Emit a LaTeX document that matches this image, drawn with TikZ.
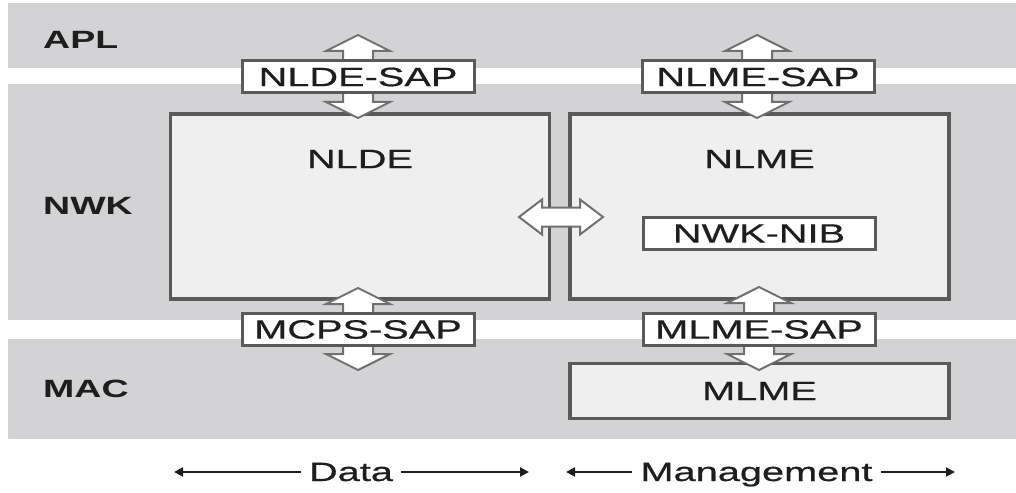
\documentclass[tikz,border=0pt]{standalone}
\usepackage{fontspec}
\setmainfont{Liberation Sans}
\newfontfamily\widefont[FakeStretch=1.5,FakeBold=0.6]{Liberation Sans}
\newfontfamily\layerfont[FakeStretch=1.5]{Liberation Sans Bold}
\usetikzlibrary{arrows.meta}

\definecolor{bandgray}{HTML}{D3D3D5}
\definecolor{boxfill}{HTML}{EFEFEF}
\definecolor{boxline}{HTML}{5A5A5A}
\definecolor{arrowline}{HTML}{707070}
\definecolor{inkgray}{HTML}{1E1E1E}

% hollow double arrow, vertical: x, top tip, bottom tip
\newcommand{\vhollow}[3]{%
  \draw[hollow] (#1-15,#2+16) -- (#1-32,#2+16) -- (#1,#2) -- (#1+32,#2+16) -- (#1+15,#2+16)
     -- (#1+15,#3-16) -- (#1+32,#3-16) -- (#1,#3) -- (#1-32,#3-16) -- (#1-15,#3-16) -- cycle;}
% hollow double arrow, horizontal: y, left tip, right tip
\newcommand{\hhollow}[3]{%
  \draw[hollow] (#2+23,#1-9.5) -- (#2+23,#1-17.5) -- (#2,#1) -- (#2+23,#1+17.5) -- (#2+23,#1+9.5)
     -- (#3-23,#1+9.5) -- (#3-23,#1+17.5) -- (#3,#1) -- (#3-23,#1-17.5) -- (#3-23,#1-9.5) -- cycle;}

\begin{document}
\begin{tikzpicture}[x=1pt,y=-1pt,
    bigbox/.style={draw=boxline, fill=boxfill, line width=3.5pt, minimum width=379pt,
                   inner sep=0pt, text=inkgray, font=\widefont\fontsize{26.5}{30}\selectfont},
    sapbox/.style={draw=boxline, fill=white, line width=3pt, minimum width=232pt,
                   minimum height=32pt, inner sep=0pt, text=inkgray,
                   font=\widefont\fontsize{26.5}{30}\selectfont},
    boxtext/.style={text=inkgray, inner sep=0pt, font=\widefont\fontsize{26.5}{30}\selectfont},
    layer/.style={anchor=base west, inner sep=0pt, text=inkgray,
                  font=\layerfont\fontsize{25}{28}\selectfont},
    capt/.style={anchor=base, inner sep=8pt, text=inkgray,
                 font=\widefont\fontsize{26.5}{30}\selectfont},
    hollow/.style={draw=arrowline, fill=white, line width=2pt, line join=miter},
    span/.style={draw=inkgray, line width=2.5pt, -{Triangle[length=9pt,width=9pt]}}]

    \useasboundingbox (0,0) rectangle (1016,492);

    % layers
    \fill[bandgray] (8,  3) rectangle (1016, 68);
    \fill[bandgray] (8, 84) rectangle (1016,320);
    \fill[bandgray] (8,339) rectangle (1016,439);

    \node[layer] (apl) at (43, 49) {APL};
    \node[layer] (nwk) at (43,214) {NWK};
    \node[layer] (mac) at (43,397) {MAC};

    % entities
    \node[bigbox, minimum height=185pt] (nlde) at (360  ,206.5) {};
    \node[bigbox, minimum height=185pt] (nlme) at (759.5,206.5) {};
    \node[bigbox, minimum height=55pt]  (mlme) at (759.5,391  ) {MLME};

    \node[boxtext] (nldetext) at (360  ,159) {NLDE};
    \node[boxtext] (nlmetext) at (759.5,159) {NLME};

    % service access points
    \vhollow{358}{35}{118}
    \vhollow{757}{35}{118}
    \vhollow{358}{288}{370}
    \vhollow{759}{287}{370}

    \node[sapbox] (nldesap) at (358  , 77  ) {NLDE-SAP};
    \node[sapbox] (nlmesap) at (758  , 77  ) {NLME-SAP};
    \node[sapbox] (nwknib)  at (759  ,233.5) {NWK-NIB};
    \node[sapbox] (mcpssap) at (358  ,329.5) {MCPS-SAP};
    \node[sapbox] (mlmesap) at (759  ,329.5) {MLME-SAP};

    \hhollow{217}{519}{603}

    % data / management
    \node[capt] (data) at (351  ,481) {Data};
    \node[capt] (mgmt) at (756.5,481) {Management};

    \coordinate (dleft)  at (174,472);
    \coordinate (dright) at (529,472);
    \coordinate (mleft)  at (566,472);
    \coordinate (mright) at (955,472);

    \draw[span] (data.west |- dleft)  -- (dleft);
    \draw[span] (data.east |- dright) -- (dright);
    \draw[span] (mgmt.west |- mleft)  -- (mleft);
    \draw[span] (mgmt.east |- mright) -- (mright);
\end{tikzpicture}
\end{document}
